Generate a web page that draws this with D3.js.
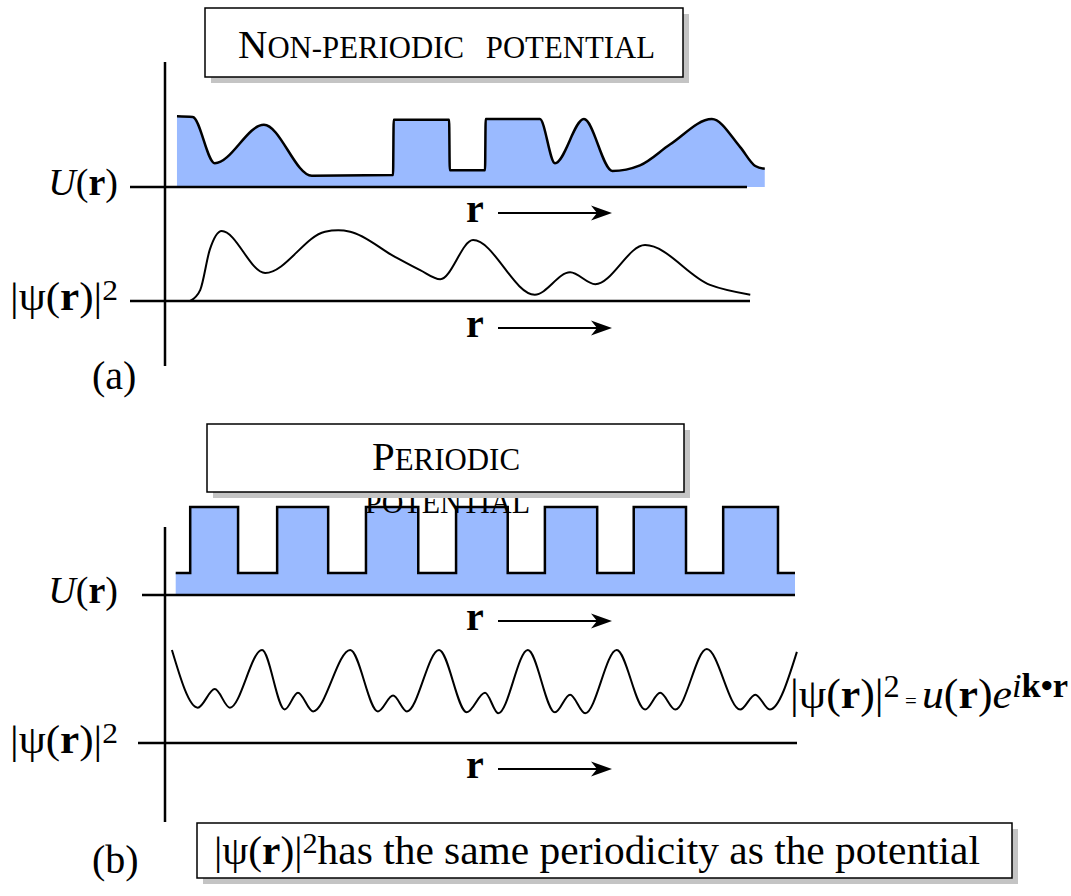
<!DOCTYPE html>
<html>
<head>
<meta charset="utf-8">
<script src="https://cdn.jsdelivr.net/npm/d3@7"></script>
<style>
  body { margin: 0; background: #fff; }
  svg { display: block; }
  text { font-family: "Liberation Serif", "Times New Roman", serif; fill: #000; }
</style>
</head>
<body>
<svg id="chart" width="1071" height="896"></svg>
<script>
// r in arbitrary units (0..10), potential / density in relative units (0..1)

// (a) non-periodic potential U(r)
const potentialA = [
  [0.19, 1.01], [0.44, 1.0], [0.79, 0.34], [1.57, 0.89], [2.33, 0.16],
  [3.62, 0.17], [3.63, 0.96], [4.51, 0.96], [4.52, 0.24], [5.08, 0.24],
  [5.09, 0.97], [5.95, 0.97], [6.19, 0.34], [6.65, 0.97], [7.10, 0.23],
  [7.54, 0.31], [8.02, 0.61], [8.68, 0.97], [9.13, 0.57], [9.37, 0.30], [9.52, 0.26]
]
// (a) |psi|^2
const densityA = [
  [0.40, 0.0], [0.56, 0.16], [0.71, 0.73], [0.90, 1.0], [1.59, 0.40],
  [2.54, 0.99], [2.75, 1.01], [2.94, 0.99], [3.65, 0.63], [4.05, 0.44],
  [4.37, 0.31], [4.89, 0.87], [5.87, 0.09], [6.43, 0.41], [6.83, 0.24],
  [7.62, 0.80], [8.65, 0.23], [9.29, 0.09]
]
// (b) periodic potential, step points (value holds until next r)
const potentialB = [
  [0.17, 0.25], [0.40, 1], [1.16, 0.25], [1.78, 1], [2.59, 0.25], [3.19, 1],
  [4.02, 0.25], [4.62, 1], [5.44, 0.25], [6.03, 1], [6.86, 0.25], [7.44, 1],
  [8.27, 0.25], [8.86, 1], [9.73, 0.25], [10.0, 0.25]
]
// (b) |psi|^2
const densityB = [
  [0.11, 1.0], [0.52, 0.38], [0.79, 0.58], [1.03, 0.38], [1.54, 1.0],
  [1.90, 0.36], [2.11, 0.54], [2.35, 0.34], [2.94, 1.0], [3.38, 0.34],
  [3.62, 0.51], [3.84, 0.34], [4.35, 1.0], [4.79, 0.33], [5.08, 0.54],
  [5.29, 0.32], [5.76, 1.0], [6.19, 0.33], [6.43, 0.52], [6.67, 0.32],
  [7.17, 1.0], [7.62, 0.36], [7.86, 0.54], [8.10, 0.36], [8.60, 1.01],
  [9.13, 0.36], [9.37, 0.52], [9.60, 0.36], [10.03, 0.98]
]

const titleA = ['N', 'ON-PERIODIC', 'POTENTIAL']
const titleB = ['P', 'ERIODIC', 'POTENTIAL']
const noteText = 'has the same periodicity as the potential'

const fillColor = '#9abaff'
const svg = d3.select('#chart')

const x = d3.scaleLinear().domain([0, 10]).range([165, 795])
const yUa = d3.scaleLinear().domain([0, 1]).range([187, 117])
const yPa = d3.scaleLinear().domain([0, 1]).range([301, 231])
const yUb = d3.scaleLinear().domain([0, 1]).range([595, 507])
const yPb = d3.scaleLinear().domain([0, 1]).range([743, 650])

// mixed-style text helper
const richText = (g, px, py, parts, anchor, len) => {
  const t = g.append('text').attr('x', px).attr('y', py).attr('text-anchor', anchor || 'start')
  parts.forEach((p) => {
    t.append('tspan')
      .text(p.t)
      .attr('font-size', p.s || 38)
      .attr('font-style', p.i ? 'italic' : null)
      .attr('font-weight', p.b ? 'bold' : null)
      .attr('dx', p.dx || null)
      .attr('dy', p.dy || null)
  })
  if (len) t.attr('textLength', len).attr('lengthAdjust', 'spacingAndGlyphs')
  return t
}

const uLabel = [{ t: 'U', i: true }, { t: '(' }, { t: 'r', b: true }, { t: ')' }]
const psiLabel = [{ t: '|ψ(', s: 41 }, { t: 'r', b: true, s: 41 }, { t: ')|', s: 41 }, { t: '2', s: 30, dy: -10 }]

const drawArrow = (g, x1, x2, y) => {
  g.append('line').attr('x1', x1).attr('x2', x2 - 12).attr('y1', y).attr('y2', y)
    .attr('stroke', '#000').attr('stroke-width', 2)
  g.append('path')
    .attr('d', `M${x2},${y} L${x2 - 21},${y - 7.5} L${x2 - 15},${y} L${x2 - 21},${y + 7.5} Z`)
    .attr('fill', '#000')
}
const rArrow = (g, y) => {
  richText(g, 466, y, [{ t: 'r', b: true, s: 40 }])
  drawArrow(g, 498, 612, y - 9)
}

const hline = (x1, x2, y) => svg.append('line').attr('x1', x1).attr('x2', x2).attr('y1', y).attr('y2', y)
  .attr('stroke', '#000').attr('stroke-width', 2.5)
const vline = (xx, y1, y2) => svg.append('line').attr('x1', xx).attr('x2', xx).attr('y1', y1).attr('y2', y2)
  .attr('stroke', '#000').attr('stroke-width', 2.5)

const titleBox = (bx, by, bw, bh) => {
  svg.append('rect').attr('x', bx + 6).attr('y', by + 6).attr('width', bw).attr('height', bh).attr('fill', '#c4c4c4')
  svg.append('rect').attr('x', bx).attr('y', by).attr('width', bw).attr('height', bh)
    .attr('fill', '#fff').attr('stroke', '#000').attr('stroke-width', 1.5)
}

// ---------- panel (a) ----------
const areaA = d3.area().x((d) => x(d[0])).y0(yUa(0)).y1((d) => yUa(d[1])).curve(d3.curveMonotoneX)
const lineA = d3.line().x((d) => x(d[0])).y((d) => yUa(d[1])).curve(d3.curveMonotoneX)
svg.append('path').attr('d', areaA(potentialA)).attr('fill', fillColor)
svg.append('path').attr('d', lineA(potentialA)).attr('fill', 'none').attr('stroke', '#000').attr('stroke-width', 2.5)

const densA = d3.line().x((d) => x(d[0])).y((d) => yPa(d[1])).curve(d3.curveMonotoneX)
svg.append('path').attr('d', densA(densityA)).attr('fill', 'none').attr('stroke', '#000').attr('stroke-width', 2)

vline(165, 62, 366)
hline(130, 747, yUa(0))
hline(130, 750, yPa(0))

titleBox(205, 8, 478, 69)
richText(svg, 238, 58, [{ t: titleA[0], s: 41 }, { t: titleA[1], s: 31 }, { t: titleA[2], s: 31, dx: 22 }], 'start', 417)

richText(svg, 118, 195, uLabel, 'end')
richText(svg, 118, 310, psiLabel, 'end', 108)
rArrow(svg, 222)
rArrow(svg, 337)
richText(svg, 92, 389, [{ t: '(a)', s: 40 }])

// ---------- panel (b) ----------
const areaB = d3.area().x((d) => x(d[0])).y0(yUb(0)).y1((d) => yUb(d[1])).curve(d3.curveStepAfter)
const lineB = d3.line().x((d) => x(d[0])).y((d) => yUb(d[1])).curve(d3.curveStepAfter)
svg.append('path').attr('d', areaB(potentialB)).attr('fill', fillColor)
svg.append('path').attr('d', lineB(potentialB)).attr('fill', 'none').attr('stroke', '#000').attr('stroke-width', 2.5)

const densB = d3.line().x((d) => x(d[0])).y((d) => yPb(d[1])).curve(d3.curveMonotoneX)
svg.append('path').attr('d', densB(densityB)).attr('fill', 'none').attr('stroke', '#000').attr('stroke-width', 2)

vline(165, 527, 822)
hline(142, 795, yUb(0))
hline(138, 797, yPb(0))

// second word overflows below the box
richText(svg, 365, 513, [{ t: titleB[2], s: 31 }], 'start', 165)
titleBox(207, 424, 477, 68)
richText(svg, 372, 470, [{ t: titleB[0], s: 41 }, { t: titleB[1], s: 31 }], 'start', 148)

richText(svg, 118, 603, uLabel, 'end')
richText(svg, 118, 753, psiLabel, 'end', 108)
rArrow(svg, 630)
rArrow(svg, 778)

richText(svg, 790, 708, [
  { t: '|ψ(', s: 42 }, { t: 'r', b: true, s: 42 }, { t: ')|', s: 42 }, { t: '2', s: 31, dy: -11 },
  { t: ' = ', s: 20, dy: 11 }, { t: 'u', i: true, s: 42 }, { t: '(', s: 42 }, { t: 'r', b: true, s: 42 }, { t: ')', s: 42 },
  { t: 'e', i: true, s: 42 }, { t: 'i', i: true, s: 33, dy: -11 }, { t: 'k•r', b: true, s: 33 }
], 'start', 278)

richText(svg, 92, 873, [{ t: '(b)', s: 40 }])
titleBox(197, 823, 815, 55)
richText(svg, 214, 864, [
  { t: '|ψ(', s: 41 }, { t: 'r', b: true, s: 41 }, { t: ')|', s: 41 }, { t: '2', s: 30, dy: -11 },
  { t: noteText, s: 41, dy: 11 }
], 'start', 766)
</script>
</body>
</html>
